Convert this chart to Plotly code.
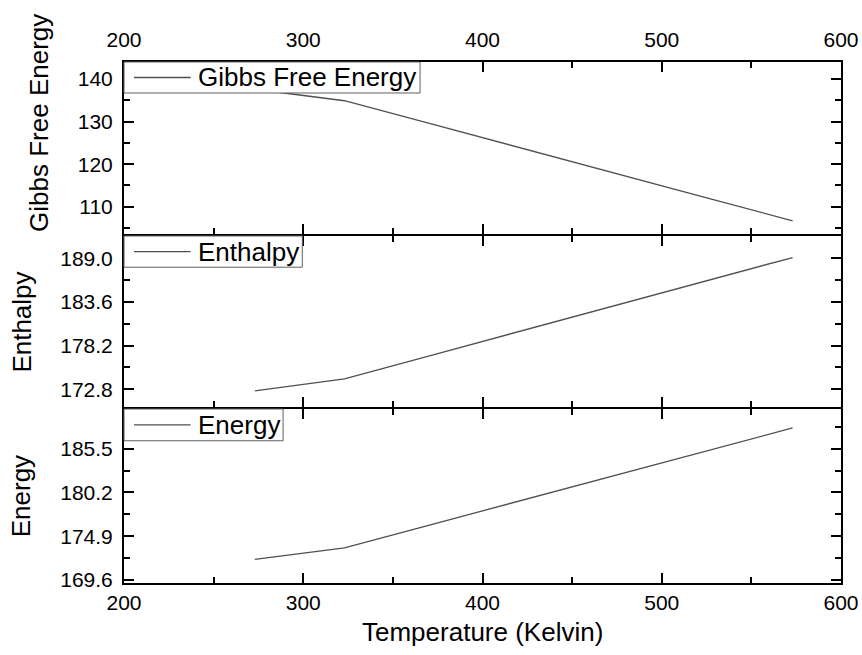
import plotly.graph_objects as go

# Thermodynamic quantities versus temperature
temperature = [273, 323, 373, 423, 473, 523, 573]
gibbs = [137.6, 134.9, 129.3, 123.6, 118.0, 112.3, 106.7]
enthalpy = [172.6, 174.1, 177.1, 180.1, 183.1, 186.1, 189.1]
energy = [172.1, 173.5, 176.4, 179.3, 182.2, 185.1, 188.0]

x_ticks = [200, 300, 400, 500, 600]
gibbs_ticks = [110, 120, 130, 140]
enthalpy_ticks = [172.8, 178.2, 183.6, 189.0]
energy_ticks = [169.6, 174.9, 180.2, 185.5]

FONT = "Liberation Sans, Arial, sans-serif"
LINE_COLOR = "#505050"
LEGEND_EDGE = "#606060"

# stacked panel domains (small gap so the shared borders coincide)
TOP_DOMAIN = [0.66987, 1.0]
MID_DOMAIN = [0.33781, 0.66603]
BOT_DOMAIN = [0.0, 0.33397]

fig = go.Figure()
fig.add_trace(go.Scatter(x=temperature, y=gibbs, mode="lines", name="Gibbs Free Energy",
                         line=dict(color=LINE_COLOR, width=1.3), xaxis="x", yaxis="y"))
fig.add_trace(go.Scatter(x=temperature, y=enthalpy, mode="lines", name="Enthalpy",
                         line=dict(color=LINE_COLOR, width=1.3), xaxis="x2", yaxis="y2"))
fig.add_trace(go.Scatter(x=temperature, y=energy, mode="lines", name="Energy",
                         line=dict(color=LINE_COLOR, width=1.3), xaxis="x3", yaxis="y3"))


def x_axis(anchor, side, labels, standoff):
    return dict(
        anchor=anchor, side=side, range=[200, 600], tickmode="array", tickvals=x_ticks,
        ticktext=[str(v) for v in x_ticks], showticklabels=labels,
        ticks="inside", ticklen=10, tickwidth=2, tickcolor="black",
        minor=dict(dtick=50, tick0=0, ticks="inside", ticklen=6, tickwidth=1.5, tickcolor="black"),
        showline=True, linewidth=2, linecolor="black", mirror="allticks",
        showgrid=False, zeroline=False, ticklabelstandoff=standoff,
        ticklabeloverflow="allow",
        tickfont=dict(family=FONT, size=21, color="black"),
    )


def y_axis(anchor, domain, rng, ticks, fmt, minor_start, minor_step):
    return dict(
        anchor=anchor, domain=domain, range=rng, tickmode="array", tickvals=ticks,
        ticktext=[fmt.format(v) for v in ticks],
        ticks="inside", ticklen=10, tickwidth=2, tickcolor="black",
        minor=dict(tick0=minor_start, dtick=minor_step, ticks="inside", ticklen=6,
                   tickwidth=1.5, tickcolor="black"),
        showline=True, linewidth=2, linecolor="black", mirror="allticks",
        showgrid=False, zeroline=False, ticklabelstandoff=5,
        ticklabeloverflow="allow",
        tickfont=dict(family=FONT, size=21, color="black"),
    )


fig.update_layout(
    width=862, height=655,
    margin=dict(l=124, r=3, t=62, b=72),
    paper_bgcolor="white", plot_bgcolor="white",
    font=dict(family=FONT, color="black"),
    showlegend=False,
    xaxis=x_axis("y", "top", True, 5),
    xaxis2=dict(x_axis("y2", "bottom", False, 0), matches="x"),
    xaxis3=dict(x_axis("y3", "bottom", True, 0), matches="x"),
    yaxis=y_axis("x", TOP_DOMAIN, [103.6, 144.0], gibbs_ticks, "{:d}", 100, 5),
    yaxis2=y_axis("x2", MID_DOMAIN, [170.61, 191.76], enthalpy_ticks, "{:.1f}", 172.8, 2.7),
    yaxis3=y_axis("x3", BOT_DOMAIN, [169.24, 190.29], energy_ticks, "{:.1f}", 169.6, 2.65),
)

# Boxed legend in the upper-left corner of each panel
legend_font = dict(family=FONT, size=26, color="black")
panels = [("x", "y", "Gibbs Free Energy", 0.4129, 0.8198),
          ("x2", "y2", "Enthalpy", 0.2487, 0.8175),
          ("x3", "y3", "Energy", 0.2219, 0.8175)]
for xa, ya, label, box_right, box_bottom in panels:
    xref, yref = f"{xa} domain", f"{ya} domain"
    mid = (1.0 + box_bottom) / 2
    fig.add_shape(type="rect", xref=xref, yref=yref, x0=0, x1=box_right, y0=box_bottom, y1=1.0,
                  fillcolor="white", line=dict(color=LEGEND_EDGE, width=1), layer="above")
    fig.add_shape(type="line", xref=xref, yref=yref, x0=0.0139, x1=0.0929, y0=mid, y1=mid,
                  line=dict(color=LINE_COLOR, width=1.3), layer="above")
    fig.add_annotation(text=label, xref=xref, yref=yref, x=0.0998, y=mid,
                       xanchor="left", yanchor="middle", showarrow=False, font=legend_font)

# Axis titles
title_font = dict(family=FONT, size=26, color="black")
fig.add_annotation(text="Temperature (Kelvin)", xref="paper", yref="paper", x=0.5, y=-0.094,
                   xanchor="center", yanchor="middle", showarrow=False, font=title_font)
fig.add_annotation(text="Gibbs Free Energy", xref="paper", yref="paper", x=-0.1179, y=0.884,
                   xanchor="center", yanchor="middle", textangle=-90, showarrow=False, font=title_font)
fig.add_annotation(text="Enthalpy", xref="paper", yref="paper", x=-0.1435, y=0.5,
                   xanchor="center", yanchor="middle", textangle=-90, showarrow=False, font=title_font)
fig.add_annotation(text="Energy", xref="paper", yref="paper", x=-0.1435, y=1 / 6,
                   xanchor="center", yanchor="middle", textangle=-90, showarrow=False, font=title_font)

fig.write_html("out.html")
